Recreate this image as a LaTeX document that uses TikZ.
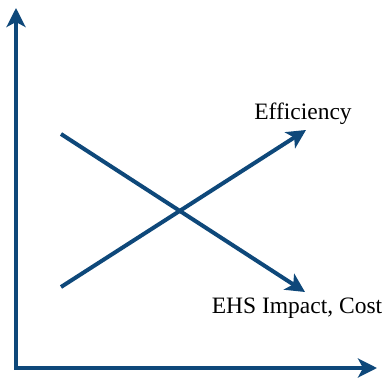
\documentclass[tikz,border=0pt]{standalone}
\usepackage{fontspec}
\setmainfont{Liberation Serif}
\usetikzlibrary{arrows.meta}
\definecolor{trendblue}{RGB}{14,72,122}

\begin{document}
\begin{tikzpicture}[x=1pt,y=-1pt]
    \useasboundingbox (0,0) rectangle (385,379);
    \tikzset{axis/.style={trendblue,line width=4pt,-{Stealth[length=19pt,width=19pt,inset=5pt]}},
             lbl/.style={font=\fontsize{23.5}{26}\selectfont,inner sep=0pt}}
    % axes
    \coordinate (o) at (16,368);
    \coordinate (ytop) at (16,8);
    \coordinate (xend) at (377,368);
    % trend lines
    \coordinate (1) at (61,134);
    \coordinate (2) at (305,292);
    \coordinate (3) at (61,287);
    \coordinate (4) at (306,130);
    \node[lbl] (eff) at (303,114) {Efficiency};
    \node[lbl] (ehs) at (297,308) {EHS Impact, Cost};

    \draw[axis,line cap=rect] (o) -- (ytop);
    \draw[axis,line cap=rect] (o) -- (xend);
    \draw[axis] (1) -- (2);
    \draw[axis] (3) -- (4);
\end{tikzpicture}
\end{document}
